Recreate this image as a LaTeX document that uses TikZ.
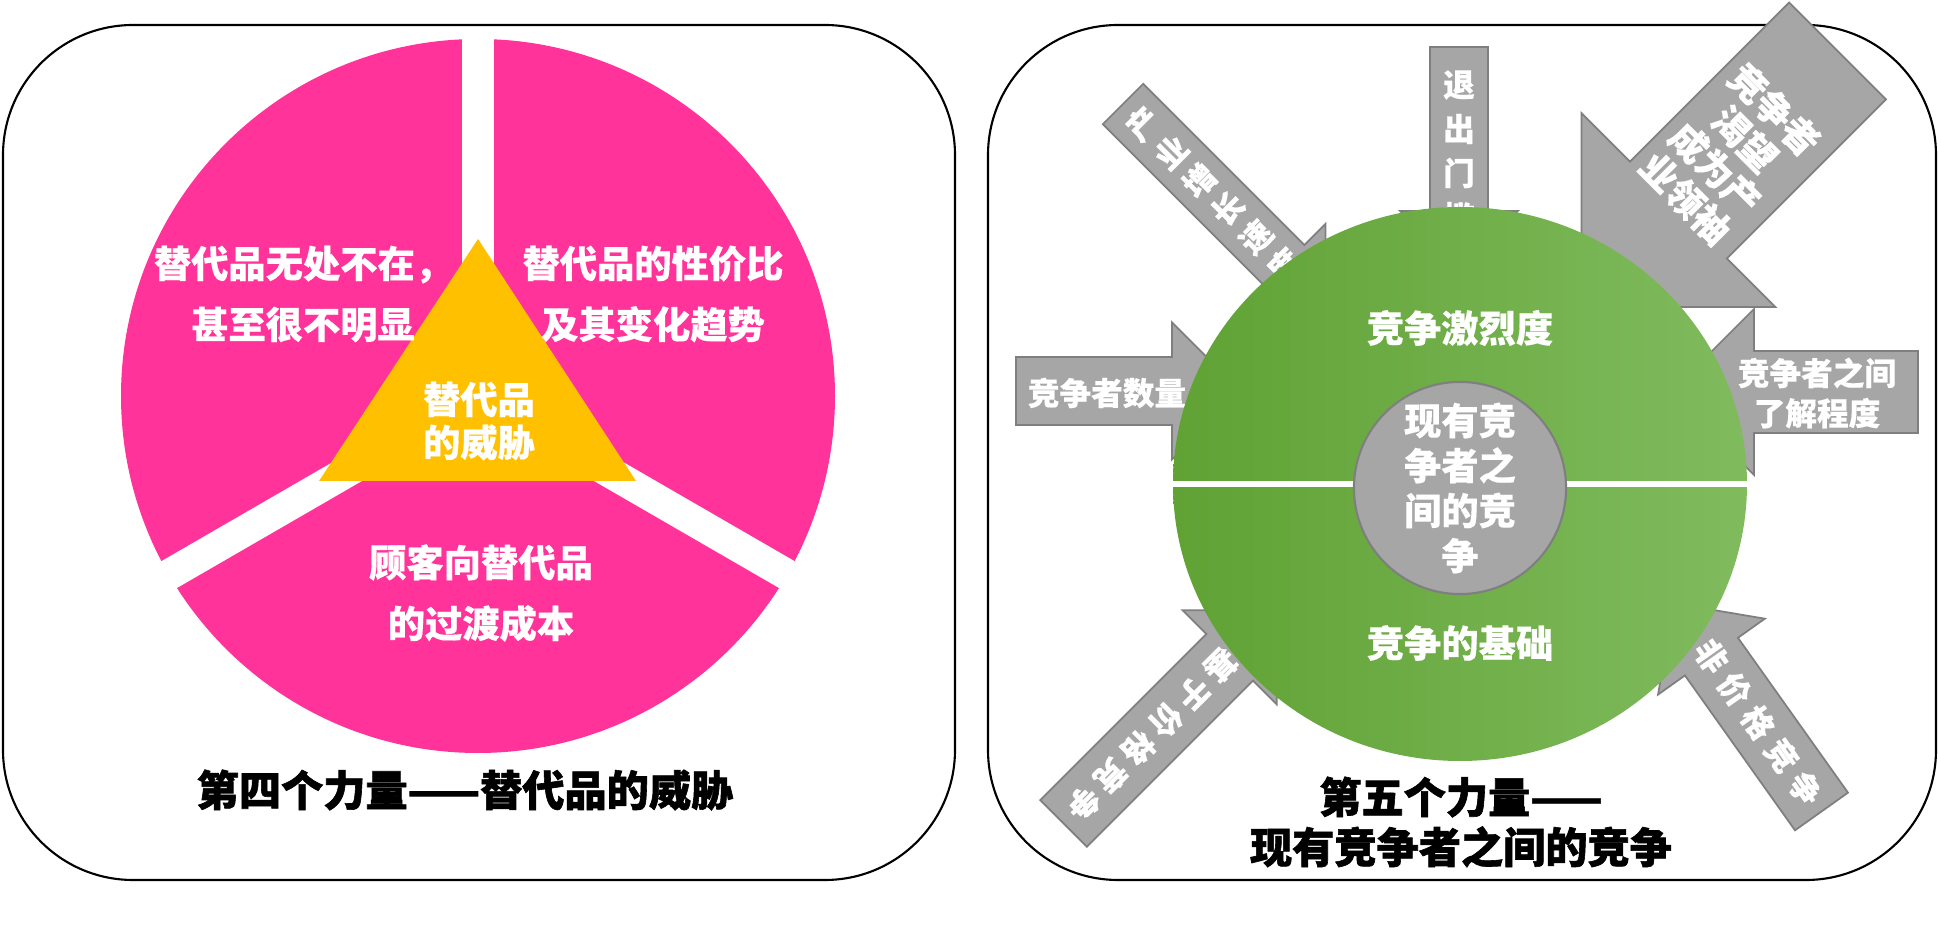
\documentclass[tikz,border=0pt]{standalone}
\usepackage{fontspec}
\setmainfont{Noto Sans CJK SC}[BoldFeatures={FakeBold=0.4}]
\newfontfamily\titlefont{Noto Sans CJK SC}[BoldFeatures={FakeBold=1.4}]
\usepackage{xcolor}
\usepackage{tikz}
\usetikzlibrary{positioning, calc}

\definecolor{pieink}{HTML}{FF3399}
\definecolor{triink}{HTML}{FFC000}
\definecolor{arrowfill}{HTML}{A6A6A6}
\definecolor{arrowline}{HTML}{7F7F7F}
\definecolor{greendark}{RGB}{96,162,52}
\definecolor{greenlight}{RGB}{128,187,94}

\begin{document}
\begin{tikzpicture}[x=0.01cm, y=-0.01cm,
    panel/.style={draw=black, line width=0.6pt, rounded corners=1.3cm},
    piegap/.style={draw=white, line width=0.31cm},
    sectortext/.style={text=white, font=\bfseries\fontsize{10.6}{17.3}\selectfont, align=center},
    titletext/.style={text=black, font=\titlefont\bfseries\fontsize{12}{14.2}\selectfont, align=center},
    ringtext/.style={text=white, font=\bfseries\fontsize{10.6}{12}\selectfont},
    corenode/.style={circle, fill=arrowfill, draw=arrowline, line width=0.6pt, minimum size=2.12cm, inner sep=0pt,
        text=white, font=\bfseries\fontsize{10.6}{12.8}\selectfont, align=center},
    arrowtext/.style={text=white, font=\bfseries\fontsize{9}{11.4}\selectfont, align=center, inner sep=0pt},
    arrowbody/.style={fill=arrowfill, draw=arrowline, line width=0.5pt},
    pics/blockarrow/.style n args={3}{code={
        \draw[arrowbody] (0,-#2) -- (#1,-#2) -- (#1,-#3) -- ({#1+#3},0)
            -- (#1,#3) -- (#1,#2) -- (0,#2) -- cycle;}}
]
\useasboundingbox (0,0) rectangle (1938,931);

% left panel: substitutes
\draw[panel] (3,25) rectangle (955,880);
\coordinate (piec) at (478,396);
\fill[pieink] (piec) circle[radius=357];
\draw[piegap] (piec) -- (478,34);
\draw[piegap] (piec) -- (165,577);
\draw[piegap] (piec) -- (791,577);
\fill[triink] (478,239) -- (636,481) -- (319,481) -- cycle;
\node[sectortext] (subleft) at (303,294) {替代品无处不在，\\甚至很不明显};
\node[sectortext] (subright) at (653,294) {替代品的性价比\\及其变化趋势};
\node[sectortext] (subbottom) at (481,593) {顾客向替代品\\的过渡成本};
\node[sectortext, font=\bfseries\fontsize{10.6}{12.2}\selectfont] (threat) at (479,421) {替代品\\的威胁};
\node[titletext] (lefttitle) at (465,790) {第四个力量——替代品的威胁};

% right panel: rivalry
\draw[panel] (988,25) rectangle (1936,880);
\pic[rotate=-90] at (1459,47) {blockarrow={164}{29}{59}};
\pic[rotate=-45] at (1123,104) {blockarrow={228}{28.5}{58.5}};
\pic[rotate=-135] at (1837.5,51) {blockarrow={225}{68.5}{137}};
\pic at (1016,391) {blockarrow={156}{34}{68.5}};
\pic[rotate=180] at (1918,392) {blockarrow={164}{41}{83}};
\pic[rotate=45] at (1063.5,823.5) {blockarrow={235}{33}{66.5}};
\pic[rotate=125.4] at (1821.5,811.5) {blockarrow={190}{32.5}{65.5}};

\foreach \ch [count=\k from 0] in {退,出,门,槛}
    \node[arrowtext] (exit\k) at (1459,{85+44*\k}) {\ch};
\foreach \ch [count=\k from 0] in {产,业,增,长,速,度}
    \node[arrowtext, rotate=45] (grow\k) at ({1123+0.7071*(28+40*\k)},{104+0.7071*(28+40*\k)}) {\ch};
\foreach \ch [count=\k from 0] in {基,于,价,格,竞,争}
    \node[arrowtext, rotate=-135] (price\k) at ({1063.5+0.705*(223-39*\k)},{823.5-0.709*(223-39*\k)}) {\ch};
\foreach \ch [count=\k from 0] in {非,价,格,竞,争}
    \node[arrowtext, rotate=-55] (nonprice\k) at ({1821.5-0.579*(190.5-40.6*\k)},{811.5-0.815*(190.5-40.6*\k)}) {\ch};
\node[arrowtext, rotate=-45, font=\bfseries\fontsize{10.5}{11.9}\selectfont] (desire) at (1730,154) {竞争者\\渴望\\成为产\\业领袖};
\node[arrowtext] (rivals) at (1107,393) {竞争者数量};
\node[arrowtext] (insight) at (1817,393) {竞争者之间\\了解程度};

\shade[left color=greendark, right color=greenlight] (1460,484) ellipse[x radius=287, y radius=277];
\draw[white, line width=0.06cm] (1170,484) -- (1750,484);
\node[corenode] (core) at (1460,488) {现有竞\\争者之\\间的竞\\争};
\node[ringtext] (intensity) at (1460,328) {竞争激烈度};
\node[ringtext] (basis) at (1460,643) {竞争的基础};
\node[titletext] (righttitle) at (1461,822) {第五个力量——\\现有竞争者之间的竞争};
\end{tikzpicture}
\end{document}
